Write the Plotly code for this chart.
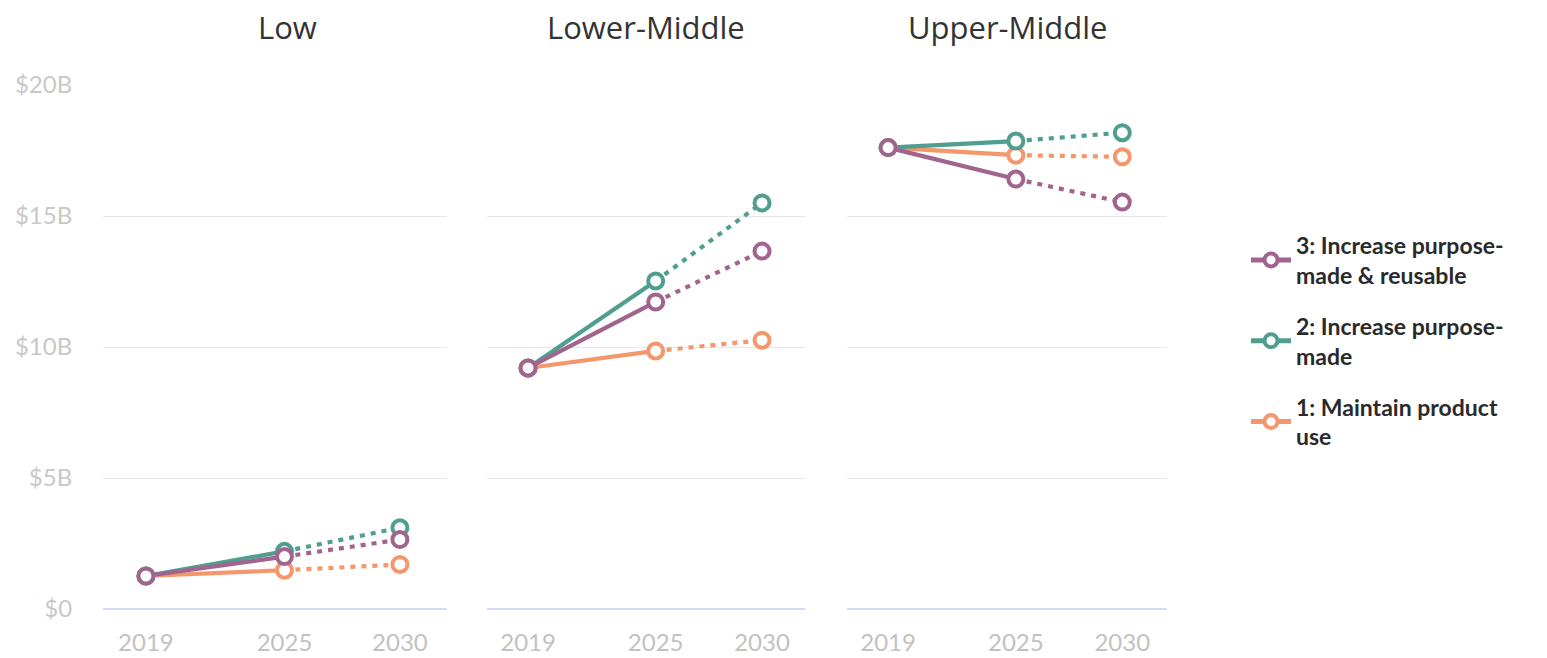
import plotly.graph_objects as go

years = [2019, 2025, 2030]
panels = ["Low", "Lower-Middle", "Upper-Middle"]

series_names = ["1: Maintain product<br>use", "2: Increase purpose-<br>made", "3: Increase purpose-<br>made & reusable"]
colors = ["#f4976c", "#4f9e8f", "#a0648e"]

# values in $B, per panel [Low, Lower-Middle, Upper-Middle]
maintain = [[1.26, 1.48, 1.70], [9.2, 9.85, 10.26], [17.61, 17.32, 17.26]]
purpose_made = [[1.26, 2.20, 3.10], [9.2, 12.52, 15.5], [17.61, 17.86, 18.18]]
reusable = [[1.26, 2.00, 2.65], [9.2, 11.72, 13.66], [17.61, 16.41, 15.53]]

y_ticks = [0, 5, 10, 15, 20]
y_tick_labels = ["$0", "$5B", "$10B", "$15B", "$20B"]

all_series = [maintain, purpose_made, reusable]

fig = go.Figure()

L, R, T, B = 103, 1167, 85, 609
W = R - L
H = B - T
def px2x(p):
    return (p - L) / W
def py2y(p):
    return (B - p) / H

domains = [[px2x(103), px2x(447)], [px2x(487), px2x(805)], [px2x(847), px2x(1167)]]
xranges = [[2017.14, 2032.04], [2017.07, 2032.02], [2017.07, 2032.1]]

legend_ranks = [3, 2, 1]
LW = 4.2
for pi in range(3):
    xa = "x" if pi == 0 else f"x{pi+1}"
    ya = "y" if pi == 0 else f"y{pi+1}"
    for si, vals in enumerate(all_series):
        v = vals[pi]
        c = colors[si]
        fig.add_trace(go.Scatter(
            x=years[:2], y=v[:2], mode="lines",
            line=dict(color=c, width=LW), xaxis=xa, yaxis=ya,
            showlegend=False, hoverinfo="skip"))
        fig.add_trace(go.Scatter(
            x=years[1:], y=v[1:], mode="lines",
            line=dict(color=c, width=LW, dash="5px,6px"), xaxis=xa, yaxis=ya,
            showlegend=False, hoverinfo="skip"))
    for si, vals in enumerate(all_series):
        v = vals[pi]
        c = colors[si]
        fig.add_trace(go.Scatter(
            x=years, y=v, mode="markers",
            marker=dict(symbol="circle", size=15, color="white",
                        line=dict(color=c, width=4)),
            xaxis=xa, yaxis=ya, showlegend=False, name=series_names[si]))

# legend entries
for si in range(3):
    fig.add_trace(go.Scatter(
        x=[None], y=[None], mode="lines+markers", name=series_names[si],
        line=dict(color=colors[si], width=5),
        marker=dict(symbol="circle", size=13, color="white",
                    line=dict(color=colors[si], width=4)),
        legendgroup=f"g{si}", legendrank=legend_ranks[si], showlegend=True))

layout = dict(
    width=1547, height=658,
    margin=dict(l=L, r=1547 - R, t=T, b=658 - B, autoexpand=False),
    paper_bgcolor="white", plot_bgcolor="white",
    font=dict(family="Lato, 'Open Sans', sans-serif"),
    legend=dict(x=px2x(1246), y=py2y(341), xanchor="left", yanchor="middle",
                font=dict(size=23, color="#2a2a2a", family="Lato", weight="bold"),
                itemwidth=40, traceorder="grouped", tracegroupgap=18,
                itemsizing="trace"),
)

for pi in range(3):
    sx = "" if pi == 0 else str(pi + 1)
    layout["xaxis" + sx] = dict(
        domain=domains[pi], range=xranges[pi], anchor="y" + sx,
        tickvals=years, ticktext=[str(y) for y in years],
        showgrid=False, zeroline=False, showline=False, automargin=False,
        ticks="outside", ticklen=12, tickcolor="rgba(0,0,0,0)",
        tickfont=dict(size=24, color="#c2c2c2", family="Lato"),
        fixedrange=True)
    layout["yaxis" + sx] = dict(
        range=[0, 20], anchor="x" + sx, automargin=False,
        tickvals=y_ticks, ticktext=y_tick_labels if pi == 0 else [""] * 5,
        showticklabels=(pi == 0),
        showgrid=True, gridcolor="#e6e6e6", gridwidth=1.2,
        zeroline=True, zerolinecolor="#d3dbef", zerolinewidth=1.5,
        showline=False,
        ticks="outside", ticklen=25, tickcolor="rgba(0,0,0,0)",
        tickfont=dict(size=24, color="#c8c8c8", family="Lato"),
        fixedrange=True)

fig.update_layout(**layout)

title_centers = [287, 646, 1007]
for pi, t in enumerate(panels):
    fig.add_annotation(text=t, x=px2x(title_centers[pi]), y=py2y(27),
                       xref="paper", yref="paper", showarrow=False,
                       xanchor="center", yanchor="middle",
                       font=dict(size=31, color="#333333", family="Open Sans"))

fig.write_html("out.html", config={"displayModeBar": False},
               post_script="document.body.style.margin='0px';")
